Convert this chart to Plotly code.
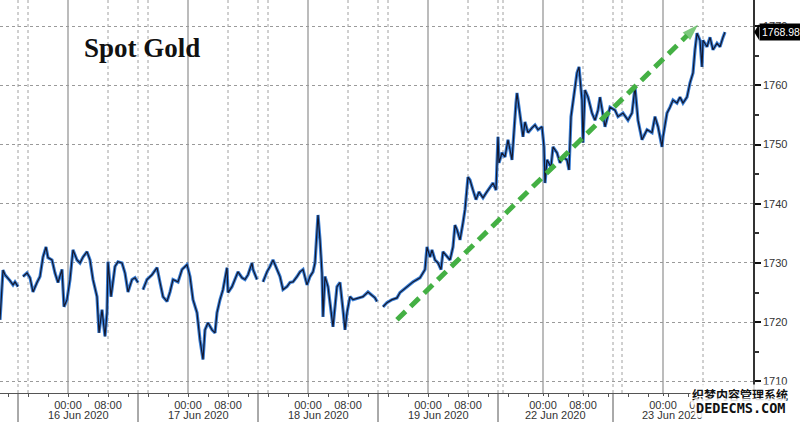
import plotly.graph_objects as go

# ---- data (x = trading-session hours from left edge, y = spot gold USD/oz) ----
hours = [0, 0.6, 1.0, 1.6, 2.0, 2.6, 3.0, 3.6, 4.0, 4.6, 5.4, 6.0, 6.6, 7.4, 8.0, 8.6, 9.2, 9.6, 10.4, 11.0,
         11.6, 12.4, 12.8, 13.4, 14.0, 14.6, 15.4, 16.0, 16.6, 17.4, 18.0, 18.6, 19.4, 19.8, 20.4, 21.0, 21.4,
         21.6, 22.2, 23.0, 23.6, 24.4, 25.0, 25.6, 26.4, 27.0, 27.6, 28.0, 28.6, 29.4, 30.4, 31.4, 32.0, 32.6,
         33.4, 34.0, 34.6, 35.6, 36.4, 37.0, 37.4, 38.0, 38.6, 39.4, 40.0, 40.6, 41.0, 41.6, 42.4, 43.0, 43.4,
         44.0, 44.6, 45.4, 45.6, 46.4, 47.0, 47.6, 48.4, 49.0, 49.6, 50.4, 50.6, 51.4, 52.0, 52.6, 53.4, 54.0,
         54.6, 55.4, 56.0, 56.6, 57.4, 58.0, 58.6, 59.4, 60.0, 60.6, 61.4, 62.0, 62.6, 63.0, 63.4, 63.6, 64.0,
         64.4, 64.6, 65.0, 65.6, 66.2, 66.6, 67.4, 68.0, 68.6, 69.0, 69.4, 70.0, 70.6, 71.6, 72.6, 73.6, 74.4,
         75.0, 75.4, 76.0, 76.6, 77.4, 78.4, 79.4, 80.0, 81.4, 82.6, 84.0, 85.0, 85.4, 86.0, 86.4, 87.0, 87.6,
         88.2, 88.6, 89.4, 90.0, 90.6, 91.0, 91.4, 92.0, 92.6, 93.0, 93.6, 94.0, 94.6, 95.2, 95.8, 96.6, 97.2,
         98.0, 98.6, 99.2, 99.6, 99.8, 100.4, 101.0, 101.6, 102.4, 102.8, 103.2, 103.4, 104.0, 104.6, 105.0,
         105.6, 106.4, 107.0, 107.6, 108.4, 108.8, 109.0, 109.4, 110.2, 110.6, 111.4, 112.0, 112.6, 113.4,
         113.8, 114.2, 114.6, 115.4, 115.8, 116.4, 116.6, 117.0, 117.6, 118.4, 119.0, 119.6, 120.0, 121.0,
         122.0, 123.0, 123.6, 124.6, 125.6, 126.4, 127.0, 127.6, 128.4, 129.4, 130.4, 131.0, 131.6, 132.4,
         132.6, 133.4, 134.0, 134.6, 135.4, 136.0, 136.6, 137.4, 138.0, 138.6, 139.0, 139.4, 140.0, 140.4,
         140.6, 141.4, 142.0, 142.6, 143.4, 144.0, 144.6, 145.0]
gold_price = [1720.4, 1728.8, 1728.0, 1727.5, 1727.0, 1726.3, 1726.8, 1726.0, None, 1727.7, 1728.3, 1727.5,
              1725.1, 1726.7, 1727.7, 1731.0, 1732.7, 1730.9, 1730.5, 1728.3, 1726.7, 1728.9, 1722.6, 1723.8,
              1727.2, 1732.2, 1730.5, 1730.0, 1731.0, 1731.9, 1730.5, 1727.2, 1724.3, 1718.2, 1722.1, 1717.6,
              1721.6, 1730.2, 1724.3, 1729.4, 1730.2, 1730.0, 1728.3, 1725.1, 1727.2, 1727.5, 1726.7, None,
              1725.5, 1727.2, 1728.0, 1729.2, 1726.7, 1724.3, 1723.5, 1725.1, 1727.2, 1726.8, 1728.9, 1729.4,
              1729.7, 1727.7, 1723.8, 1721.6, 1717.0, 1713.7, 1718.7, 1719.9, 1718.7, 1718.2, 1721.6, 1723.8,
              1725.5, 1729.2, 1725.0, 1726.0, 1727.2, 1728.5, 1727.5, 1727.2, 1728.0, 1730.0, 1728.9, 1727.2,
              None, 1726.8, 1728.5, 1729.4, 1730.5, 1728.9, 1727.7, 1725.5, 1726.0, 1726.7, 1726.8, 1727.7,
              1728.5, 1728.9, 1726.3, 1727.7, 1728.5, 1730.0, 1735.6, 1738.1, 1733.9, 1728.3, 1720.9, 1727.7,
              1726.0, 1722.1, 1719.2, 1726.0, 1726.7, 1722.1, 1718.7, 1721.6, 1724.3, 1723.8, 1724.1, 1724.3,
              1725.1, 1724.6, 1724.1, 1723.5, None, 1722.6, 1723.3, 1723.8, 1724.1, 1725.0, 1726.0, 1726.8,
              1727.5, 1728.9, 1732.7, 1731.0, 1732.2, 1730.5, 1730.0, 1728.9, 1731.9, 1731.0, 1730.5, 1732.7,
              1736.4, 1735.6, 1733.9, 1736.8, 1739.0, 1744.5, 1744.0, 1742.3, 1740.7, 1742.0, 1741.0, 1741.8,
              1742.7, 1743.5, 1742.3, 1751.3, 1746.9, 1748.6, 1747.9, 1750.8, 1747.4, 1753.0, 1757.0, 1758.7,
              1755.3, 1751.3, 1753.8, 1752.0, 1752.8, 1753.3, 1752.5, 1753.0, 1749.6, 1743.5, 1747.4, 1746.2,
              1749.6, 1748.6, 1746.9, 1747.9, 1747.4, 1745.7, 1754.7, 1757.0, 1762.1, 1763.1, 1757.5, 1750.3,
              1759.2, 1758.0, 1755.3, 1754.1, 1755.8, 1758.0, 1753.0, 1756.3, 1755.8, 1754.7, 1755.3, 1754.1,
              1755.3, 1759.7, 1754.1, 1750.8, 1752.5, 1752.0, 1754.7, 1753.0, 1749.6, 1751.3, 1755.3, 1756.3,
              1757.5, 1757.0, 1758.0, 1757.0, 1758.0, 1760.4, 1762.1, 1766.0, 1768.8, 1767.6, 1763.1, 1767.6,
              1766.5, 1768.1, 1766.0, 1767.1, 1766.5, 1768.1, 1768.98]
last_price = "1768.98"

# axis labelling
midnight_hours = [13.6, 37.6, 61.6, 85.6, 108.6, 132.6]
eight_am_hours = [21.6, 45.6, 69.6, 93.6, 116.6, 140.6]
session_breaks = [3.6, 27.6, 51.6, 75.6, 99.6, 122.6]
extra_dotted = [5.6, 29.6, 53.6, 77.6, 100.6, 124.4]
day_labels = ["16 Jun 2020", "17 Jun 2020", "18 Jun 2020", "19 Jun 2020", "22 Jun 2020", "23 Jun 2020"]
day_label_pos = [15.6, 39.6, 63.6, 87.6, 111.1, 134.5]
y_ticks = [1710, 1720, 1730, 1740, 1750, 1760, 1770]

# trend arrow (start / end)
trend_x = [79.4, 139.6]
trend_y = [1720.4, 1770.2]

X_RANGE = [0, 150.6]
Y_RANGE = [1708.04, 1774.4]

fig = go.Figure()

# price line: blue halo with dark core
fig.add_trace(go.Scatter(x=hours, y=gold_price, mode="lines",
                         line=dict(color="#3a7fd6", width=3.2), hoverinfo="skip", showlegend=False))
fig.add_trace(go.Scatter(x=hours, y=gold_price, mode="lines",
                         line=dict(color="#14182e", width=1.2), showlegend=False))

# green dashed arrow
fig.add_trace(go.Scatter(x=trend_x, y=trend_y, mode="lines+markers",
                         line=dict(color="#44b044", width=5, dash="12px,7px"),
                         marker=dict(symbol="arrow", size=[0, 17], angleref="previous",
                                     color="#44b044", line=dict(width=0)),
                         showlegend=False, hoverinfo="skip"))

shapes = []
for h in midnight_hours:
    shapes.append(dict(type="line", xref="x", yref="paper", x0=h, x1=h, y0=0, y1=1,
                       line=dict(color="#a6a6a6", width=1.5), layer="below"))
for h in eight_am_hours + session_breaks + extra_dotted:
    shapes.append(dict(type="line", xref="x", yref="paper", x0=h, x1=h, y0=0, y1=1,
                       line=dict(color="#a0a0a0", width=1, dash="dot"), layer="below"))
for h in session_breaks:
    shapes.append(dict(type="line", xref="x", yref="paper", x0=h, x1=h, y0=0, y1=-29 / 393,
                       line=dict(color="#555555", width=1)))
# pointer of the last-price tag
shapes.append(dict(type="path", xref="paper", yref="y",
                   path="M 1.0015,1768.98 L 1.008,1770.3 L 1.008,1767.66 Z",
                   fillcolor="black", line=dict(width=0)))

annotations = [
    dict(text="<b>Spot Gold</b>", xref="paper", yref="paper", x=0.109, y=0.878,
         xanchor="left", yanchor="middle", showarrow=False,
         font=dict(family="Liberation Serif", size=27, color="#111111")),
    dict(text=last_price, xref="paper", yref="y", x=1.008, y=1768.98, xanchor="left", yanchor="middle",
         showarrow=False, bgcolor="black", borderpad=2,
         font=dict(family="Liberation Sans", size=10.5, color="white")),
    dict(text="<b>织梦内容管理系统</b>", xref="paper", yref="paper", x=0.983, y=0, yshift=-1,
         xanchor="center", yanchor="middle", showarrow=False, bgcolor="rgba(255,255,255,0.85)",
         font=dict(family="Noto Sans CJK SC", size=12, color="#111111")),
    dict(text="<b>DEDECMS.COM</b>", xref="paper", yref="paper", x=0.983, y=0, yshift=-14.5,
         xanchor="center", yanchor="middle", showarrow=False, bgcolor="rgba(255,255,255,0.85)",
         font=dict(family="DejaVu Sans Mono", size=13.5, color="#111111")),
]
for lbl, pos in zip(day_labels, day_label_pos):
    annotations.insert(0, dict(text=lbl, xref="x", yref="paper", x=pos, y=0, yshift=-22,
                               xanchor="center", yanchor="middle", showarrow=False,
                               font=dict(family="Liberation Sans", size=11, color="#333333")))

tick_vals = []
tick_text = []
for a, b in zip(midnight_hours, eight_am_hours):
    tick_vals += [a, b]
    tick_text += ["00:00", "08:00"]

fig.update_layout(
    width=800, height=422,
    margin=dict(l=0, r=47, t=0, b=29),
    paper_bgcolor="white", plot_bgcolor="white",
    shapes=shapes, annotations=annotations,
    xaxis=dict(range=X_RANGE, showgrid=False, zeroline=False,
               tickvals=tick_vals, ticktext=tick_text,
               ticks="outside", ticklen=2, tickcolor="#555555",
               tickfont=dict(family="Liberation Sans", size=11, color="#333333"),
               showline=True, linecolor="#555555", linewidth=1,
               minor=dict(tick0=13.6, dtick=4, ticks="outside", ticklen=3, tickcolor="#555555")),
    yaxis=dict(range=Y_RANGE, side="right", tickvals=y_ticks,
               showgrid=True, gridcolor="#9a9a9a", griddash="dot", gridwidth=1, zeroline=False,
               ticks="outside", ticklen=6, tickwidth=2, tickcolor="#111111",
               tickfont=dict(family="Liberation Sans", size=11, color="#333333"),
               showline=True, linecolor="#333333", linewidth=1.5,
               minor=dict(dtick=5, ticks="outside", ticklen=4, tickcolor="#333333", showgrid=False)),
)

fig.write_html("out.html", config={"displayModeBar": False},
               post_script="document.body.style.margin='0';document.body.style.overflow='hidden';")
